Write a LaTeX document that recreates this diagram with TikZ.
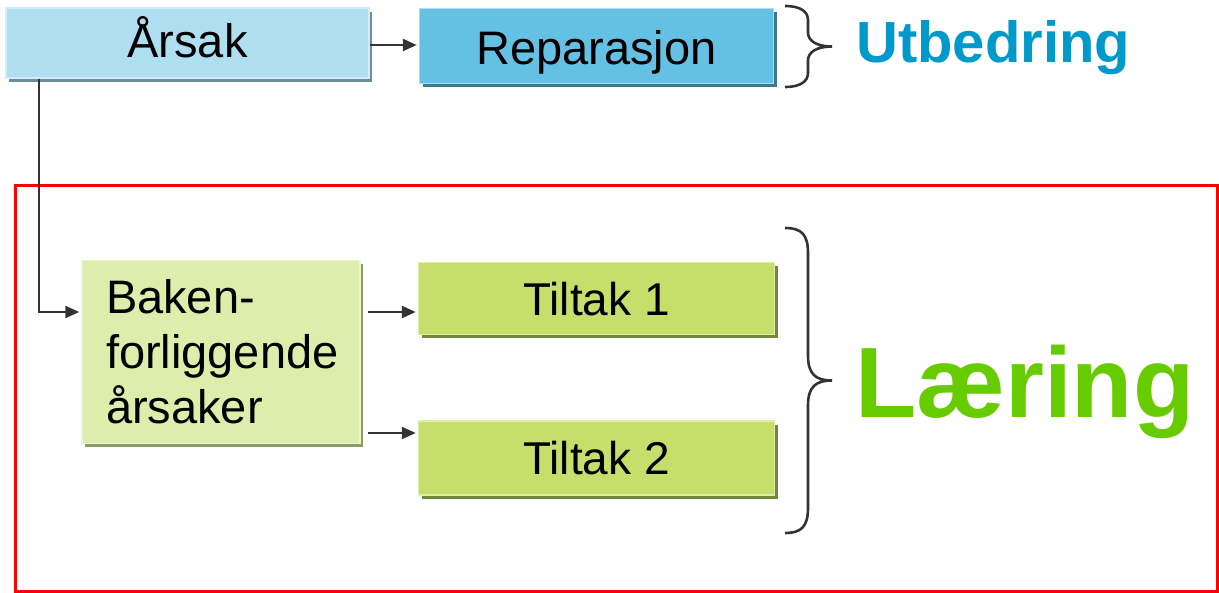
\documentclass[tikz,border=0pt]{standalone}
\usepackage{fontspec}
\setmainfont{Liberation Sans}
\usetikzlibrary{positioning,shadows,arrows.meta}

\definecolor{arsakfill}{HTML}{AEDEF0}
\definecolor{arsakshadow}{HTML}{6E8C99}
\definecolor{repfill}{HTML}{64C1E3}
\definecolor{repshadow}{HTML}{3D7A8F}
\definecolor{bakenfill}{HTML}{DDEDAB}
\definecolor{bakenshadow}{HTML}{8D9A6B}
\definecolor{tiltakfill}{HTML}{C5DF6A}
\definecolor{tiltakshadow}{HTML}{71873C}
\definecolor{pilgrey}{HTML}{333333}
\definecolor{utblue}{HTML}{0099CC}
\definecolor{laergreen}{HTML}{66CC00}

% right curly brace: top, bottom, bend radius
\newcommand{\klamme}[3]{%
  \draw[line width=2.6pt, draw=pilgrey]
    (785,#1) .. controls (801,#1) and (808,{#1+6}) .. (808,{#1+#3})
    -- (808,{(#1+#2)/2-#3}) .. controls (808,{(#1+#2)/2-6}) and (816,{(#1+#2)/2}) .. (832,{(#1+#2)/2})
    .. controls (816,{(#1+#2)/2}) and (808,{(#1+#2)/2+6}) .. (808,{(#1+#2)/2+#3})
    -- (808,{#2-#3}) .. controls (808,{#2-6}) and (801,#2) .. (785,#2);}

\begin{document}
\begin{tikzpicture}[x=1pt,y=-1pt]
        \tikzset{Box/.style 2 args={%
                shape=rectangle,%
                fill=#1,%
                draw=#1!55!white,%
                line width=1.5pt,%
                inner sep=0pt,%
                font=\fontsize{47}{55}\selectfont,%
                drop shadow={shadow xshift=3pt,shadow yshift=-4pt,opacity=1,fill=#2},%
            },
            Pil/.style={%
                -{Triangle[length=14pt,width=12pt]},%
                line width=2.4pt,%
                draw=pilgrey,%
                shorten >=2pt,%
            }}

        \useasboundingbox (0,0) rectangle (1219,593);

        % learning frame
        \draw[red, line width=3pt] (15.5,185.5) rectangle (1217.5,591.5);

        \node[Box={arsakfill}{arsakshadow}, minimum width=363pt, minimum height=70pt,
              text height=32pt, text depth=2pt] (arsak) at (187.5,43) {Årsak};
        \node[Box={repfill}{repshadow}, minimum width=354pt, minimum height=75pt,
              text height=40pt, text depth=2pt, right=49pt of arsak, yshift=-3pt] (reparasjon) {Reparasjon};

        \node[Box={bakenfill}{bakenshadow}, minimum width=278pt, minimum height=183pt,
              text width=230pt, align=left] (baken) at (221,352) {Baken-\\\mbox{forliggende}\\årsaker};
        \node[Box={tiltakfill}{tiltakshadow}, minimum width=356pt, minimum height=72pt,
              text height=36pt, text depth=2pt, font=\fontsize{46}{55}\selectfont,
              right=57pt of baken.north east, anchor=north west, yshift=-2pt] (tiltak1) {Tiltak 1};
        \node[Box={tiltakfill}{tiltakshadow}, minimum width=356pt, minimum height=74pt,
              text height=36pt, text depth=2pt, font=\fontsize{46}{55}\selectfont,
              below=85pt of tiltak1] (tiltak2) {Tiltak 2};

        \node[anchor=base west, inner sep=0pt, text=utblue,
              font=\fontsize{58}{60}\selectfont\bfseries] (utbedring) at (856,63) {Utbedring};
        \node[anchor=base west, inner sep=0pt, text=laergreen,
              font=\fontsize{100}{100}\selectfont\bfseries] (laering) at (855,418) {Læring};

        \coordinate (a1) at ([yshift=-2pt]arsak.east);
        \coordinate (b1) at ([yshift=40pt]baken.east);
        \coordinate (b2) at ([yshift=-81pt]baken.east);

        \draw[Pil] (a1) -- (a1 -| reparasjon.west);
        \draw[Pil] ([xshift=34pt]arsak.south west) |- ([yshift=40pt]baken.west);
        \draw[Pil, shorten <=7pt] (b1) -- (b1 -| tiltak1.west);
        \draw[Pil, shorten <=7pt] (b2) -- (b2 -| tiltak2.west);

        \klamme{6}{87}{14}
        \klamme{228}{533}{25}
\end{tikzpicture}
\end{document}
